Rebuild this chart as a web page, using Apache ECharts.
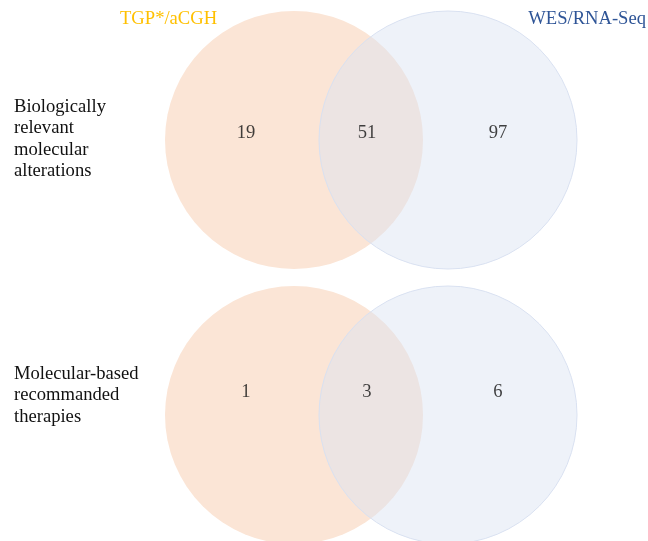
<!DOCTYPE html>
<html><head><meta charset="utf-8">
<script src="https://cdn.jsdelivr.net/npm/echarts@6/dist/echarts.min.js"></script>
<style>html,body{margin:0;padding:0;background:#fff}#c{width:648px;height:541px}</style>
</head><body><div id="c"></div>
<script>
const setNames = ['TGP*/aCGH', 'WES/RNA-Seq'];
const rowLabels = ['Biologically\nrelevant\nmolecular\nalterations', 'Molecular-based\nrecommanded\ntherapies'];
const onlyA = [19, 1];
const both = [51, 3];
const onlyB = [97, 6];

// layout (pixel-like data space)
const W = 648, H = 541;
const rowCY = [140, 415];
const numY = [133, 392];
const leftCX = 294, rightCX = 448, R = 129;
const numX = [246, 367, 498];
const labelTop = [97.5, 364.5];
const FAM = "'Liberation Serif', 'Times New Roman', serif";
const FONT19 = "18.6px 'Liberation Serif', 'Times New Roman', serif";

const circleData = [];
rowCY.forEach(cy => { circleData.push([leftCX, cy, R, 0]); circleData.push([rightCX, cy, R, 1]); });
const numData = [];
[0, 1].forEach(i => {
  numData.push([numX[0], numY[i], onlyA[i]]);
  numData.push([numX[1], numY[i], both[i]]);
  numData.push([numX[2], numY[i], onlyB[i]]);
});

function rowText(lines, top) {
  return lines.split('\n').map((t, k) => ({
    type: 'text', left: 14, top: top + k * 21.5,
    style: {text: t, fill: '#111', font: FONT19}
  }));
}

const chart = echarts.init(document.getElementById('c'));
chart.setOption({
  animation: false,
  grid: {left: 0, right: 0, top: 0, bottom: 0},
  xAxis: {type: 'value', min: 0, max: W, show: false},
  yAxis: {type: 'value', min: 0, max: H, inverse: true, show: false},
  series: [
    {
      type: 'custom',
      data: circleData,
      renderItem: function (params, api) {
        const c = api.coord([api.value(0), api.value(1)]);
        const s = api.size([api.value(2), api.value(2)]);
        const isB = api.value(3) === 1;
        return {
          type: 'circle',
          shape: {cx: c[0], cy: c[1], r: s[0]},
          style: isB ? {fill: 'rgba(218,227,243,0.46)', stroke: '#D9E1F1', lineWidth: 1}
                     : {fill: '#FBE5D6'}
        };
      }
    },
    {
      type: 'scatter',
      data: numData,
      symbolSize: 0,
      z: 5,
      label: {
        show: true, position: 'inside',
        formatter: p => String(p.value[2]),
        color: '#111', fontSize: 18.6, fontFamily: FAM
      }
    }
  ],
  graphic: [
    {type: 'text', left: 120, top: 10, style: {text: setNames[0], fill: '#FFC000', font: FONT19}},
    {type: 'text', right: 2, top: 10, style: {text: setNames[1], fill: '#2F5597', font: FONT19}}
  ].concat(rowText(rowLabels[0], labelTop[0]), rowText(rowLabels[1], labelTop[1]))
});
</script></body></html>
